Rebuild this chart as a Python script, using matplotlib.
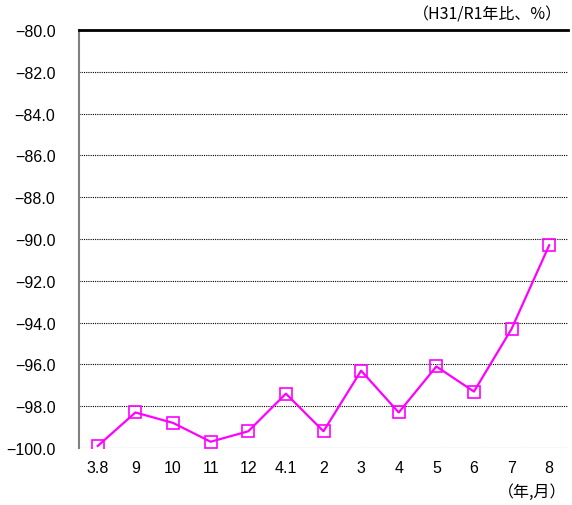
import matplotlib
matplotlib.use("Agg")
import matplotlib.pyplot as plt

plt.rcParams['font.family'] = ['Liberation Sans', 'Noto Sans CJK JP', 'DejaVu Sans']

categories = ["3.8", "9", "10", "11", "12", "4.1", "2", "3", "4", "5", "6", "7", "8"]
values = [-99.9, -98.3, -98.8, -99.7, -99.2, -97.4, -99.2, -96.3, -98.3, -96.1, -97.3, -94.3, -90.3]
yticks = [-80, -82, -84, -86, -88, -90, -92, -94, -96, -98, -100]

fig = plt.figure(figsize=(5.72, 5.06), dpi=100)
ax = fig.add_axes([79/572, 1-449/506, 489/572, 418/506])

x = list(range(len(categories)))
ax.plot(x, values, color='#FF00FF', linewidth=1.6, marker='s', markersize=8.5,
        markerfacecolor='none', markeredgecolor='#FF00FF', markeredgewidth=1.2, zorder=3)

ax.set_xlim(-0.5, len(categories) - 0.5)
ax.set_ylim(-100, -80)
ax.set_xticks(x)
ax.set_xticklabels(categories, fontsize=11.5)
ax.set_yticks(yticks)
ax.set_yticklabels([f"\u2212{abs(v):.1f}" for v in yticks], fontsize=11.5)
ax.tick_params(axis='both', length=0, pad=9)
ax.tick_params(axis='y', pad=17)

for v in yticks[1:]:
    ax.axhline(v, color='black', linestyle=(0, (1, 1)), linewidth=0.8, zorder=1)

ax.spines['right'].set_visible(False)
ax.spines['bottom'].set_visible(False)
ax.spines['top'].set_color('black')
ax.spines['top'].set_linewidth(2)
ax.spines['left'].set_color('#808080')
ax.spines['left'].set_linewidth(1.5)

fig.text(562/572, 1-15/506, "（H31/R1年比、%）", ha='right', va='center', fontsize=11.5,
         family=['Noto Sans CJK JP', 'DejaVu Sans'])
fig.text(566/572, 1-492/506, "（年,月）", ha='right', va='center', fontsize=11.5,
         family=['Noto Sans CJK JP', 'DejaVu Sans'])

fig.savefig("out.png", dpi=100)
